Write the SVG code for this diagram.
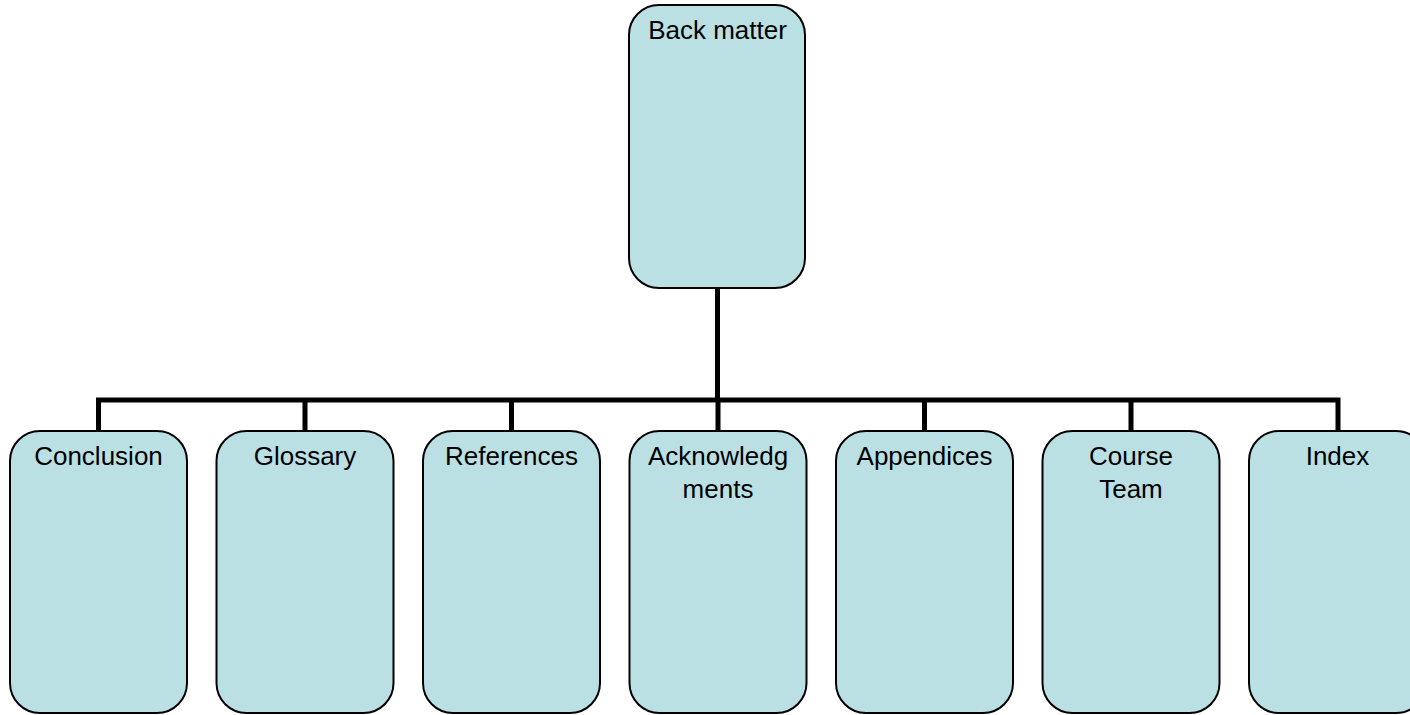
<svg xmlns="http://www.w3.org/2000/svg" width="1410" height="715" viewBox="0 0 1410 715">
<style>
.box{fill:#BBE0E3;stroke:#000;stroke-width:2}
.lbl{font-family:"Liberation Sans",Arial,sans-serif;font-size:26px;fill:#000;text-anchor:middle}
.conn{stroke:#000;stroke-width:5;fill:none}
</style>
<rect width="1410" height="715" fill="#fff"/>
<g id="connectors">
<path class="conn" d="M717.5 288 V400"/>
<path class="conn" d="M98.5 400 H1338 M98.5 397.5 V431 M305 400 V431 M511.5 400 V431 M718 400 V431 M924.5 400 V431 M1131 400 V431 M1338 397.5 V431"/>
</g>
<g id="back-matter"><rect class="box" x="629" y="5" width="176" height="283" rx="30"/><text class="lbl" x="717.5" y="39">Back matter</text></g>
<g id="conclusion"><rect class="box" x="10" y="431" width="177" height="282" rx="30"/><text class="lbl" x="98.5" y="465">Conclusion</text></g>
<g id="glossary"><rect class="box" x="216.5" y="431" width="177" height="282" rx="30"/><text class="lbl" x="305" y="465">Glossary</text></g>
<g id="references"><rect class="box" x="423" y="431" width="177" height="282" rx="30"/><text class="lbl" x="511.5" y="465">References</text></g>
<g id="acknowledgments"><rect class="box" x="629.5" y="431" width="177" height="282" rx="30"/><text class="lbl" x="718" y="465">Acknowledg</text><text class="lbl" x="718" y="498">ments</text></g>
<g id="appendices"><rect class="box" x="836" y="431" width="177" height="282" rx="30"/><text class="lbl" x="924.5" y="465">Appendices</text></g>
<g id="course-team"><rect class="box" x="1042.5" y="431" width="177" height="282" rx="30"/><text class="lbl" x="1131" y="465">Course</text><text class="lbl" x="1131" y="498">Team</text></g>
<g id="index"><rect class="box" x="1249" y="431" width="177" height="282" rx="30"/><text class="lbl" x="1337.5" y="465">Index</text></g>
</svg>
